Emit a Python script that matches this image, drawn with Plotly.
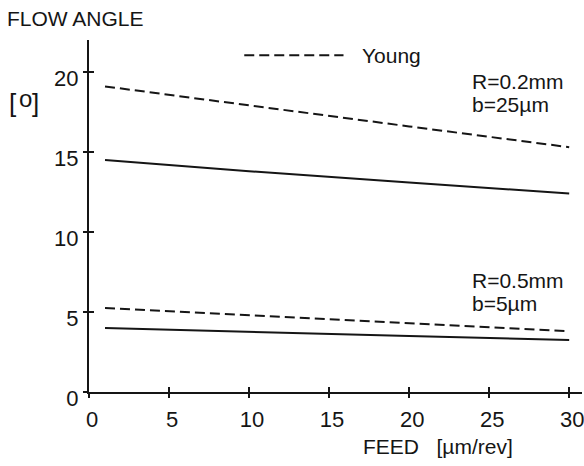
import plotly.graph_objects as go

# Data
feed = [1, 10, 20, 30]
young_r02 = [19.1, 17.9, 16.6, 15.3]
model_r02 = [14.5, 13.8, 13.1, 12.4]
young_r05 = [5.25, 4.8, 4.3, 3.8]
model_r05 = [4.0, 3.75, 3.5, 3.25]

x_ticks = [0, 5, 10, 15, 20, 25, 30]
y_ticks = [0, 5, 10, 15, 20]

INK = "#151515"
FONT = "Liberation Sans, Arial, sans-serif"
FS = 21
TFS = 22

fig = go.Figure()
dash = "10px,5px"
for ys, d in [(young_r02, dash), (model_r02, "solid"), (young_r05, dash), (model_r05, "solid")]:
    fig.add_trace(go.Scatter(x=feed, y=ys, mode="lines",
                             line=dict(color=INK, width=2, dash=d),
                             showlegend=False, hoverinfo="skip"))

# invisible trace to drive the outer-tick overlay axes
fig.add_trace(go.Scatter(x=[0], y=[0], xaxis="x2", yaxis="y2", mode="markers",
                         marker=dict(opacity=0), showlegend=False, hoverinfo="skip"))

axis_common = dict(showgrid=False, zeroline=False, color=INK,
                   tickfont=dict(family=FONT, size=TFS, color=INK))

fig.update_layout(
    width=584, height=466,
    margin=dict(l=89, r=0, t=40, b=74),
    paper_bgcolor="white", plot_bgcolor="white",
    xaxis=dict(range=[0, 30.8], tickvals=x_ticks, ticks="inside", ticklen=5, tickwidth=1.5,
               tickcolor=INK, showline=True, linewidth=2, linecolor=INK,
               ticklabelstandoff=7, ticklabelshift=3, ticklabeloverflow="allow",
               **axis_common),
    yaxis=dict(range=[0, 22], tickvals=y_ticks, ticks="inside", ticklen=5, tickwidth=1.5,
               tickcolor=INK, showline=True, linewidth=2, linecolor=INK,
               ticklabelstandoff=4, ticklabelshift=6, ticklabeloverflow="allow",
               **axis_common),
    xaxis2=dict(range=[0, 30.8], tickvals=x_ticks, ticks="outside", ticklen=5, tickwidth=1.5,
                tickcolor=INK, showticklabels=False, showline=False, showgrid=False,
                zeroline=False, overlaying="x", anchor="y2"),
    yaxis2=dict(range=[0, 22], tickvals=y_ticks, ticks="outside", ticklen=5, tickwidth=1.5,
                tickcolor=INK, showticklabels=False, showline=False, showgrid=False,
                zeroline=False, overlaying="y", anchor="x2"),
    font=dict(family=FONT, size=FS, color=INK),
)

def txt(x, y, s, xref="x", yref="y", size=FS):
    fig.add_annotation(x=x, y=y, xref=xref, yref=yref, text=s, showarrow=False,
                       xanchor="left", yanchor="middle",
                       font=dict(family=FONT, size=size, color=INK))

# y-axis title pieces (paper coordinates, outside the plot area)
txt(-0.17, 1.0625, "FLOW ANGLE", "paper", "paper")
txt(-0.166, 0.82, "[", "paper", "paper", size=26)
txt(-0.146, 0.833, "o", "paper", "paper", size=24)
txt(-0.119, 0.82, "]", "paper", "paper", size=26)
# legend
fig.add_shape(type="line", x0=9.7, x1=15.9, y0=21.05, y1=21.05, xref="x", yref="y",
              line=dict(color=INK, width=2, dash=dash))
txt(16.9, 21.05, "Young")
# curve labels
txt(23.8, 19.4, "R=0.2mm")
txt(23.8, 17.95, "b=25µm")
txt(23.8, 6.95, "R=0.5mm")
txt(23.8, 5.55, "b=5µm")
# x-axis title
txt(0.5515, -0.156, "FEED   [µm/rev]", "paper", "paper")

fig.write_html("out.html")
